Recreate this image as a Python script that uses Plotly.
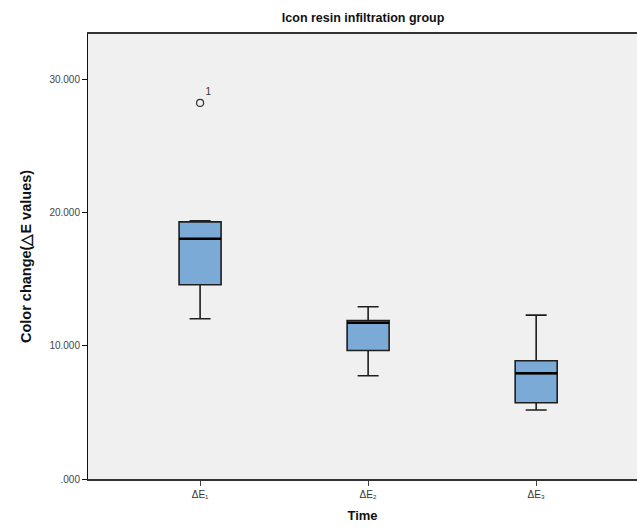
import plotly.graph_objects as go

categories = ["ΔE₁", "ΔE₂", "ΔE₃"]
lower_whisker = [12.03, 7.75, 5.18]
q1_vals = [14.58, 9.65, 5.72]
median_vals = [18.03, 11.72, 7.93]
q3_vals = [19.30, 11.90, 8.87]
upper_whisker = [19.38, 12.93, 12.30]
outlier_cat = ["ΔE₁"]
outlier_vals = [28.23]
outlier_labels = ["1"]
ytick_vals = [0, 10, 20, 30]
ytick_text = [".000", "10.000", "20.000", "30.000"]

BOX_W = 0.25
fig = go.Figure()
fig.add_trace(go.Box(
    x=categories, q1=q1_vals, median=median_vals, q3=q3_vals,
    lowerfence=lower_whisker, upperfence=upper_whisker,
    fillcolor="#7baad6", line=dict(color="#1e1e1e", width=1.6),
    width=BOX_W, whiskerwidth=0.5, boxpoints=False, showlegend=False,
    hoverinfo="skip",
))
fig.add_trace(go.Scatter(
    x=outlier_cat, y=outlier_vals, mode="markers+text",
    text=outlier_labels, textposition="top right",
    textfont=dict(size=10, color="#333"),
    marker=dict(symbol="circle-open", size=7, color="#333", line=dict(width=1.2)),
    showlegend=False,
))
# thick median lines
for i, m in enumerate(median_vals):
    fig.add_shape(type="line", xref="x", yref="y",
                  x0=i - BOX_W / 2, x1=i + BOX_W / 2, y0=m, y1=m,
                  line=dict(color="black", width=2.5))

fig.update_layout(
    width=637, height=531,
    margin=dict(l=88, r=0, t=34, b=52),
    paper_bgcolor="white", plot_bgcolor="#f0f0f0",
    font=dict(family="Liberation Sans, Arial, sans-serif", color="#222"),
    title=dict(text="<b>Icon resin infiltration group</b>", x=0.57, xanchor="center",
               y=0.967, yanchor="middle", font=dict(size=12.5, color="#111")),
    xaxis=dict(
        type="category", range=[-0.667, 2.6],
        showline=True, linecolor="#333", linewidth=1.5, mirror=True,
        ticks="outside", ticklen=5, tickcolor="#444",
        tickfont=dict(size=10, color="#333"),
        title=dict(text="<b>Time</b>", font=dict(size=13, color="#111"), standoff=12),
        showgrid=False, zeroline=False,
    ),
    yaxis=dict(
        range=[0, 33.4], tickvals=ytick_vals, ticktext=ytick_text,
        showline=True, linecolor="#111", linewidth=1,
        ticks="outside", ticklen=5, tickcolor="#111",
        tickfont=dict(size=10, color="#444"),
        title=dict(text="<b>Color change(△E values)</b>", font=dict(size=14.5, color="#111"), standoff=14),
        showgrid=False, zeroline=False,
    ),
)
fig.write_html("out.html")
